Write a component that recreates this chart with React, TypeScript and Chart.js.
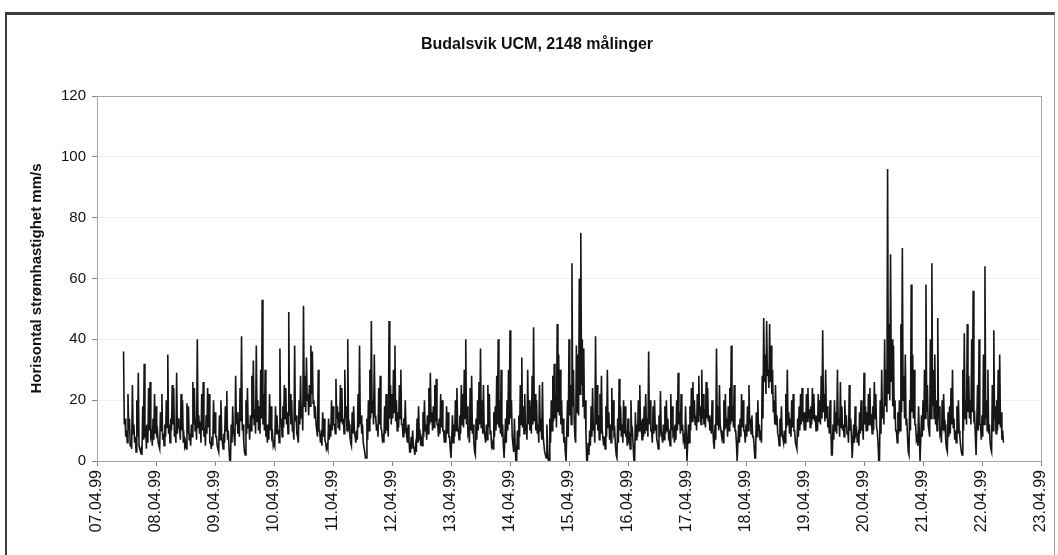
import React, { useEffect, useRef } from "react";
import { Chart, registerables } from "chart.js";

Chart.register(...registerables);

const chartTitle = "Budalsvik UCM, 2148 målinger";
const yAxisTitle = "Horisontal strømhastighet mm/s";
const dateLabels = [
  "07.04.99", "08.04.99", "09.04.99", "10.04.99", "11.04.99", "12.04.99",
  "13.04.99", "14.04.99", "15.04.99", "16.04.99", "17.04.99", "18.04.99",
  "19.04.99", "20.04.99", "21.04.99", "22.04.99", "23.04.99",
];
const yTickValues = [0, 20, 40, 60, 80, 100, 120];

// 36-minute windows; each window gives a reading on the crest side (hi) and on the trough side (lo)
const slotsPerDay = 40;
const hi07 = [36, 14, 10, 22, 14, 6, 25, 12, 8, 20, 29, 5, 4, 18, 32, 10, 12, 24, 26, 9, 14, 22]; // starts at slot 18
const lo07 = [12, 8, 6, 10, 5, 4, 9, 6, 3, 8, 5, 3, 2, 7, 9, 4, 6, 10, 8, 5, 7, 9];
const hi08 = [18, 10, 5, 16, 22, 9, 12, 20, 35, 12, 14, 25, 24, 10, 29, 14, 11, 22, 20, 8, 6, 19, 18, 9, 12, 26, 24, 14, 40, 15, 13, 22, 26, 11, 15, 24, 22, 6, 8, 20];
const lo08 = [9, 6, 4, 10, 7, 5, 8, 11, 9, 6, 10, 12, 8, 6, 9, 11, 7, 10, 6, 5, 4, 9, 7, 5, 8, 12, 10, 7, 11, 9, 6, 10, 8, 5, 9, 11, 6, 4, 5, 9];
const hi09 = [16, 8, 4, 15, 20, 6, 9, 18, 23, 10, 0, 12, 18, 8, 28, 16, 14, 24, 41, 12, 3, 20, 24, 12, 15, 28, 33, 17, 38, 20, 18, 30, 53, 22, 30, 12, 12, 22, 18, 9];
const lo09 = [8, 5, 3, 7, 9, 4, 6, 10, 7, 4, 0, 6, 10, 5, 12, 9, 8, 13, 10, 6, 2, 9, 11, 7, 10, 14, 12, 9, 13, 10, 9, 14, 12, 10, 8, 6, 7, 10, 8, 5];
const hi10 = [6, 18, 15, 10, 37, 14, 18, 25, 24, 16, 49, 22, 20, 10, 38, 15, 8, 20, 28, 18, 51, 28, 34, 22, 25, 38, 36, 20, 18, 12, 30, 10, 8, 16, 14, 6, 5, 14, 12, 20];
const lo10 = [5, 9, 10, 6, 12, 8, 11, 14, 12, 9, 15, 12, 10, 7, 13, 9, 6, 12, 14, 10, 18, 16, 20, 15, 18, 22, 19, 14, 12, 8, 10, 6, 5, 8, 7, 4, 4, 7, 8, 10];
const hi11 = [18, 12, 27, 18, 16, 25, 24, 14, 30, 18, 40, 12, 6, 16, 18, 8, 10, 22, 38, 15, 12, 6, 1, 14, 20, 30, 46, 20, 35, 14, 12, 24, 28, 10, 8, 18, 22, 12, 46, 25];
const lo11 = [12, 9, 14, 11, 10, 13, 12, 9, 14, 10, 11, 8, 5, 9, 10, 6, 7, 11, 12, 9, 6, 3, 1, 7, 10, 14, 16, 12, 15, 10, 8, 12, 11, 7, 6, 9, 10, 8, 14, 12];
const hi12 = [22, 30, 38, 20, 16, 25, 30, 12, 14, 20, 8, 12, 3, 8, 10, 4, 5, 14, 18, 9, 8, 16, 20, 12, 15, 24, 29, 16, 18, 25, 27, 12, 14, 22, 20, 10, 10, 18, 16, 8];
const lo12 = [14, 16, 13, 10, 11, 14, 12, 8, 9, 11, 6, 7, 3, 4, 5, 2, 3, 6, 8, 5, 5, 8, 10, 7, 9, 12, 13, 10, 11, 13, 12, 8, 9, 11, 10, 6, 6, 9, 8, 4];
const hi13 = [1, 15, 12, 20, 24, 10, 15, 25, 22, 30, 40, 18, 10, 24, 28, 12, 3, 14, 20, 26, 37, 20, 25, 10, 12, 25, 22, 10, 6, 16, 18, 28, 40, 20, 30, 12, 1, 14, 20, 30];
const lo13 = [1, 6, 8, 10, 12, 7, 9, 12, 11, 14, 12, 9, 6, 10, 9, 6, 2, 7, 10, 12, 11, 9, 10, 6, 7, 11, 9, 5, 4, 8, 10, 12, 11, 9, 8, 5, 1, 6, 10, 12];
const hi14 = [43, 20, 8, 14, 0, 10, 15, 25, 34, 18, 22, 12, 30, 20, 18, 28, 44, 22, 20, 12, 25, 14, 26, 8, 2, 12, 0, 14, 20, 28, 32, 22, 45, 35, 30, 20, 14, 8, 0, 20];
const lo14 = [14, 8, 3, 5, 0, 4, 8, 12, 11, 9, 10, 7, 12, 10, 9, 12, 13, 10, 9, 6, 10, 7, 8, 3, 1, 5, 0, 6, 10, 13, 14, 11, 16, 15, 12, 9, 6, 3, 0, 8];
const hi15 = [40, 25, 65, 30, 8, 38, 35, 60, 75, 40, 37, 20, 0, 6, 10, 18, 24, 12, 41, 25, 15, 22, 28, 10, 8, 18, 30, 16, 12, 24, 20, 10, 2, 14, 27, 18, 12, 20, 18, 10];
const lo15 = [15, 12, 18, 14, 6, 16, 15, 22, 25, 18, 14, 9, 0, 2, 5, 8, 10, 6, 12, 10, 7, 9, 10, 5, 4, 8, 11, 7, 6, 10, 9, 5, 1, 6, 10, 8, 6, 9, 8, 5];
const hi16 = [14, 8, 20, 10, 0, 16, 12, 20, 25, 12, 14, 18, 22, 14, 36, 20, 10, 18, 20, 12, 6, 15, 23, 10, 12, 18, 20, 14, 9, 22, 18, 10, 12, 20, 29, 16, 22, 12, 8, 18];
const lo16 = [7, 4, 9, 5, 0, 7, 8, 10, 11, 7, 8, 9, 10, 8, 12, 10, 6, 9, 10, 7, 4, 8, 10, 6, 7, 9, 10, 8, 5, 10, 9, 6, 7, 10, 12, 9, 10, 7, 4, 9];
const hi17 = [0, 12, 18, 24, 26, 20, 15, 22, 28, 18, 30, 22, 17, 26, 24, 15, 14, 20, 6, 12, 37, 18, 25, 12, 10, 20, 22, 14, 18, 24, 38, 18, 25, 10, 0, 12, 14, 22, 20, 10];
const lo17 = [0, 6, 10, 13, 14, 12, 10, 13, 15, 12, 14, 12, 11, 14, 13, 10, 9, 11, 4, 7, 12, 10, 12, 8, 6, 10, 11, 8, 10, 12, 13, 11, 10, 6, 0, 6, 8, 11, 10, 6];
const hi18 = [12, 18, 25, 14, 15, 8, 1, 16, 20, 12, 10, 28, 47, 35, 46, 30, 45, 38, 30, 20, 25, 15, 8, 14, 18, 9, 10, 22, 30, 16, 14, 20, 22, 10, 5, 14, 18, 22, 24, 16];
const lo18 = [8, 10, 12, 9, 8, 5, 1, 8, 10, 7, 6, 14, 26, 22, 28, 24, 26, 22, 16, 12, 12, 9, 5, 8, 9, 6, 6, 11, 12, 9, 8, 11, 10, 6, 4, 8, 10, 12, 13, 10];
const hi19 = [16, 22, 24, 17, 18, 24, 22, 15, 15, 22, 20, 28, 43, 22, 30, 18, 14, 20, 2, 12, 20, 16, 30, 14, 26, 18, 12, 20, 15, 10, 25, 14, 1, 12, 18, 10, 8, 16, 20, 12];
const lo19 = [10, 13, 14, 11, 12, 14, 13, 10, 10, 13, 12, 14, 16, 13, 14, 11, 9, 11, 2, 7, 10, 9, 12, 8, 11, 10, 8, 11, 9, 6, 10, 8, 1, 6, 9, 6, 5, 9, 10, 7];
const hi20 = [29, 18, 16, 22, 24, 14, 18, 26, 22, 10, 0, 20, 30, 18, 40, 30, 96, 45, 68, 40, 38, 20, 10, 16, 20, 45, 70, 28, 35, 14, 3, 20, 58, 35, 30, 12, 8, 18, 0, 15];
const lo20 = [12, 10, 10, 12, 13, 9, 10, 14, 11, 6, 0, 9, 14, 12, 18, 16, 22, 20, 26, 18, 14, 10, 6, 9, 10, 16, 20, 14, 12, 8, 2, 10, 16, 14, 12, 7, 5, 9, 0, 8];
const hi21 = [20, 30, 58, 25, 12, 40, 65, 30, 35, 20, 47, 18, 10, 20, 22, 12, 4, 16, 18, 24, 30, 14, 10, 18, 20, 8, 3, 30, 42, 20, 45, 28, 20, 40, 56, 15, 2, 25, 40, 12];
const lo21 = [10, 14, 16, 12, 8, 14, 18, 14, 12, 10, 14, 9, 6, 10, 11, 6, 3, 8, 9, 12, 11, 7, 6, 9, 10, 5, 2, 10, 14, 12, 16, 14, 12, 16, 14, 8, 2, 10, 12, 7];
const hi22 = [15, 35, 64, 20, 30, 12, 4, 25, 43, 18, 20, 30, 35, 16, 10];
const lo22 = [8, 12, 14, 10, 9, 6, 3, 10, 14, 9, 10, 12, 11, 7, 6];

const dayBlocks = [
  { day: 0, first: 18, hi: hi07, lo: lo07 },
  { day: 1, first: 0, hi: hi08, lo: lo08 },
  { day: 2, first: 0, hi: hi09, lo: lo09 },
  { day: 3, first: 0, hi: hi10, lo: lo10 },
  { day: 4, first: 0, hi: hi11, lo: lo11 },
  { day: 5, first: 0, hi: hi12, lo: lo12 },
  { day: 6, first: 0, hi: hi13, lo: lo13 },
  { day: 7, first: 0, hi: hi14, lo: lo14 },
  { day: 8, first: 0, hi: hi15, lo: lo15 },
  { day: 9, first: 0, hi: hi16, lo: lo16 },
  { day: 10, first: 0, hi: hi17, lo: lo17 },
  { day: 11, first: 0, hi: hi18, lo: lo18 },
  { day: 12, first: 0, hi: hi19, lo: lo19 },
  { day: 13, first: 0, hi: hi20, lo: lo20 },
  { day: 14, first: 0, hi: hi21, lo: lo21 },
  { day: 15, first: 0, hi: hi22, lo: lo22 },
];

const FONT = '"Liberation Sans", Arial, sans-serif';

export default function App() {
  const canvasRef = useRef<HTMLCanvasElement | null>(null);

  useEffect(() => {
    const points: { x: number; y: number }[] = [];
    dayBlocks.forEach((b) => {
      b.hi.forEach((v, j) => {
        points.push({ x: b.day + (b.first + j) / slotsPerDay, y: v });
        points.push({ x: b.day + (b.first + j + 0.5) / slotsPerDay, y: b.lo[j] });
      });
    });

    const decor = {
      id: "decor",
      beforeDatasetsDraw(chart: any) {
        const { ctx, chartArea } = chart;
        ctx.save();
        ctx.strokeStyle = "#a8a8a8";
        ctx.lineWidth = 1;
        ctx.strokeRect(
          Math.round(chartArea.left) + 0.5,
          Math.round(chartArea.top) + 0.5,
          Math.round(chartArea.right - chartArea.left),
          Math.round(chartArea.bottom - chartArea.top)
        );
        ctx.restore();
      },
      afterDraw(chart: any) {
        const { ctx, chartArea } = chart;
        ctx.save();
        ctx.fillStyle = "#111";
        ctx.textAlign = "center";
        ctx.textBaseline = "middle";
        ctx.font = `bold 16px ${FONT}`;
        ctx.fillText(chartTitle, 537, 45);
        ctx.translate(37, (chartArea.top + chartArea.bottom) / 2);
        ctx.rotate(-Math.PI / 2);
        ctx.font = `bold 15px ${FONT}`;
        ctx.fillText(yAxisTitle, 0, 0);
        ctx.restore();
      },
    };

    const chart = new Chart(canvasRef.current as HTMLCanvasElement, {
      type: "line",
      data: {
        datasets: [
          {
            data: points,
            borderColor: "#161616",
            borderWidth: 1.6,
            pointRadius: 0,
            tension: 0,
          },
        ],
      },
      options: {
        animation: false,
        responsive: false,
        maintainAspectRatio: false,
        layout: { padding: { top: 96, right: 17, left: 0, bottom: 0 } },
        plugins: {
          legend: { display: false },
          title: { display: false },
          tooltip: { enabled: false },
        },
        scales: {
          x: {
            type: "linear",
            min: 0,
            max: dateLabels.length - 1,
            afterFit: (s: any) => {
              s.height = 94;
              s.paddingRight = 0;
              s.paddingLeft = 0;
            },
            afterBuildTicks: (s: any) => {
              s.ticks = dateLabels.map((_, i) => ({ value: i }));
            },
            ticks: {
              autoSkip: false,
              minRotation: 90,
              maxRotation: 90,
              padding: 4,
              color: "#111",
              font: { family: FONT, size: 16 },
              callback: (v: any) => dateLabels[Math.round(Number(v))] ?? "",
            },
            grid: {
              drawOnChartArea: false,
              drawTicks: true,
              tickLength: 5,
              tickColor: "#888",
            },
            border: { color: "#888", width: 1 },
          },
          y: {
            min: 0,
            max: 120,
            afterFit: (s: any) => {
              s.width = 97;
            },
            afterBuildTicks: (s: any) => {
              s.ticks = yTickValues.map((v) => ({ value: v }));
            },
            ticks: {
              padding: 6,
              color: "#111",
              font: { family: FONT, size: 15 },
            },
            grid: {
              color: "#efefef",
              tickLength: 5,
              tickColor: "#888",
            },
            border: { color: "#888", width: 1 },
          },
        },
      },
      plugins: [decor],
    });
    return () => chart.destroy();
  }, []);

  return (
    <div style={{ position: "absolute", left: 0, top: 0, width: 1058, height: 555, background: "#fff", overflow: "hidden" }}>
      <canvas ref={canvasRef} width={1058} height={555} style={{ position: "absolute", left: 0, top: 0 }} />
      <div
        style={{
          position: "absolute",
          left: 5,
          top: 12,
          width: 1047,
          height: 600,
          borderTop: "3px solid #3c3c3c",
          borderLeft: "2px solid #3c3c3c",
          borderRight: "1px solid #9a9a9a",
          pointerEvents: "none",
        }}
      />
    </div>
  );
}
